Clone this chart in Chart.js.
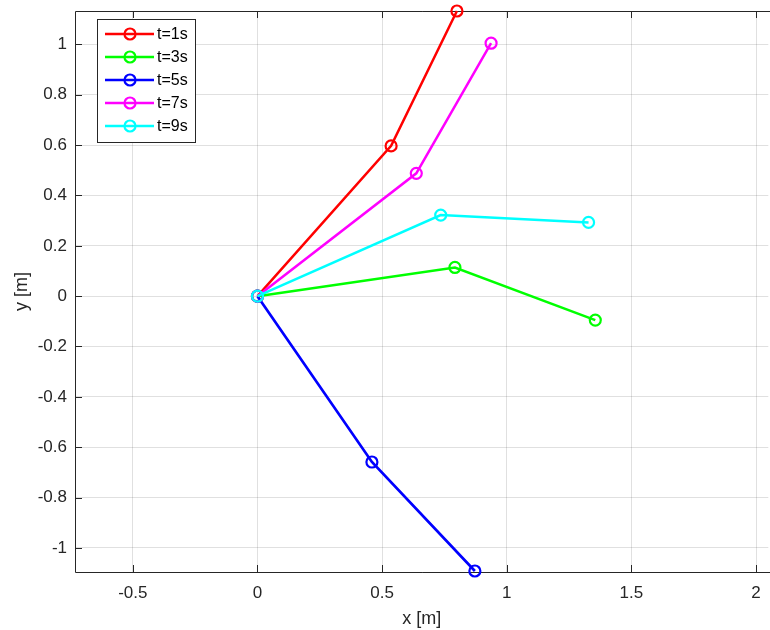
<!DOCTYPE html>
<html><head><meta charset="utf-8">
<script src="https://cdn.jsdelivr.net/npm/chart.js@4.4.0/dist/chart.umd.min.js"></script>
<style>html,body{margin:0;padding:0;background:#fff;overflow:hidden}#wrap{width:770px;height:630px;position:relative;overflow:hidden}canvas{display:block}</style>
</head><body><div id="wrap"><canvas id="c" width="776" height="630"></canvas></div>
<script>
// ---- data ----
const seriesLabels = ['t=1s', 't=3s', 't=5s', 't=7s', 't=9s'];
const seriesColors = ['#ff0000', '#00ff00', '#0000ff', '#ff00ff', '#00ffff'];
const x_t1 = [0, 0.536, 0.800];  const y_t1 = [0, 0.597, 1.133];
const x_t3 = [0, 0.792, 1.355];  const y_t3 = [0, 0.114, -0.095];
const x_t5 = [0, 0.459, 0.872];  const y_t5 = [0, -0.659, -1.092];
const x_t7 = [0, 0.637, 0.937];  const y_t7 = [0, 0.488, 1.005];
const x_t9 = [0, 0.735, 1.328];  const y_t9 = [0, 0.322, 0.293];
const xTicks = [-0.5, 0, 0.5, 1, 1.5, 2];
const yTicks = [-1, -0.8, -0.6, -0.4, -0.2, 0, 0.2, 0.4, 0.6, 0.8, 1];
const xLimits = [-0.732, 2.049];
const yLimits = [-1.096, 1.133];
const xTitle = 'x [m]';
const yTitle = 'y [m]';

const xs = [x_t1, x_t3, x_t5, x_t7, x_t9];
const ys = [y_t1, y_t3, y_t5, y_t7, y_t9];

const FONT = '"Liberation Sans", Arial, sans-serif';
const AXC = '#262626';

const datasets = seriesLabels.map((lab, i) => ({
  label: lab,
  data: xs[i].map((x, k) => ({x: x, y: ys[i][k]})),
  showLine: true,
  borderColor: seriesColors[i],
  backgroundColor: 'rgba(0,0,0,0)',
  borderWidth: i === 2 ? 2.7 : 2.5,
  pointRadius: 5.5,
  pointHoverRadius: 5.5,
  pointBorderWidth: 2.2,
  pointBorderColor: seriesColors[i],
  pointBackgroundColor: 'rgba(0,0,0,0)',
  clip: false,
  order: seriesLabels.length - i
}));

const fmt = v => String(Math.round(v * 10) / 10);
const noPad = s => { s.paddingTop = 0; s.paddingBottom = 0; s.paddingLeft = 0; s.paddingRight = 0; };

const axesPlugin = {
  id: 'axesPlugin',
  beforeDatasetsDraw(chart) {
    const {ctx, chartArea: a, scales: {x, y}} = chart;
    ctx.save();
    ctx.strokeStyle = AXC;
    ctx.lineWidth = 1;
    ctx.beginPath();
    ctx.moveTo(a.left + 0.5, a.top + 0.5);
    ctx.lineTo(a.left + 0.5, a.bottom + 0.5);
    ctx.lineTo(a.right + 2, a.bottom + 0.5);
    ctx.moveTo(a.left + 0.5, a.top + 0.5);
    ctx.lineTo(a.right + 2, a.top + 0.5);
    const tl = 7;
    xTicks.forEach(v => {
      const px = Math.round(x.getPixelForValue(v)) + 0.5;
      ctx.moveTo(px, a.bottom); ctx.lineTo(px, a.bottom - tl);
      ctx.moveTo(px, a.top); ctx.lineTo(px, a.top + tl);
    });
    yTicks.forEach(v => {
      const py = Math.round(y.getPixelForValue(v)) + 0.5;
      ctx.moveTo(a.left, py); ctx.lineTo(a.left + tl, py);
    });
    ctx.stroke();
    ctx.restore();
  },
  afterDraw(chart) {
    const ctx = chart.ctx;
    const bx = 97, by = 19, bw = 98, bh = 123;
    ctx.save();
    ctx.fillStyle = '#ffffff';
    ctx.fillRect(bx, by, bw, bh);
    ctx.strokeStyle = AXC;
    ctx.lineWidth = 1;
    ctx.strokeRect(bx + 0.5, by + 0.5, bw, bh);
    chart.data.datasets.forEach((ds, i) => {
      const cy = 34 + i * 23;
      ctx.strokeStyle = ds.borderColor;
      ctx.lineWidth = ds.borderWidth;
      ctx.beginPath();
      ctx.moveTo(105, cy); ctx.lineTo(154, cy);
      ctx.stroke();
      ctx.lineWidth = 2.2;
      ctx.beginPath();
      ctx.arc(130, cy, 5.5, 0, Math.PI * 2);
      ctx.stroke();
      ctx.fillStyle = '#000000';
      ctx.font = '16px ' + FONT;
      ctx.textBaseline = 'middle';
      ctx.textAlign = 'left';
      ctx.fillText(ds.label, 157, cy + 1);
    });
    ctx.restore();
  }
};

new Chart(document.getElementById('c'), {
  type: 'scatter',
  data: {datasets},
  options: {
    responsive: false,
    animation: false,
    events: [],
    layout: {padding: {top: 11, right: 0, left: 0, bottom: 0}},
    plugins: {legend: {display: false}, tooltip: {enabled: false}, title: {display: false}},
    scales: {
      x: {
        type: 'linear',
        min: xLimits[0], max: xLimits[1],
        afterBuildTicks: s => { s.ticks = xTicks.map(v => ({value: v})); },
        afterFit: s => { s.height = 58; noPad(s); },
        grid: {color: 'rgba(38,38,38,0.14)', lineWidth: 1, drawTicks: false},
        border: {display: false},
        ticks: {color: AXC, font: {family: FONT, size: 17}, padding: 11, maxRotation: 0, autoSkip: false, callback: fmt},
        title: {display: true, text: xTitle, color: AXC, font: {family: FONT, size: 18}, padding: {top: 0, bottom: 0}}
      },
      y: {
        type: 'linear',
        min: yLimits[0], max: yLimits[1],
        afterBuildTicks: s => { s.ticks = yTicks.map(v => ({value: v})); },
        afterFit: s => { s.width = 75; noPad(s); },
        grid: {color: 'rgba(38,38,38,0.14)', lineWidth: 1, drawTicks: false},
        border: {display: false},
        ticks: {color: AXC, font: {family: FONT, size: 17}, padding: 8, autoSkip: false, callback: fmt},
        title: {display: true, text: yTitle, color: AXC, font: {family: FONT, size: 18}, padding: 11}
      }
    }
  },
  plugins: [axesPlugin]
});
</script></body></html>
